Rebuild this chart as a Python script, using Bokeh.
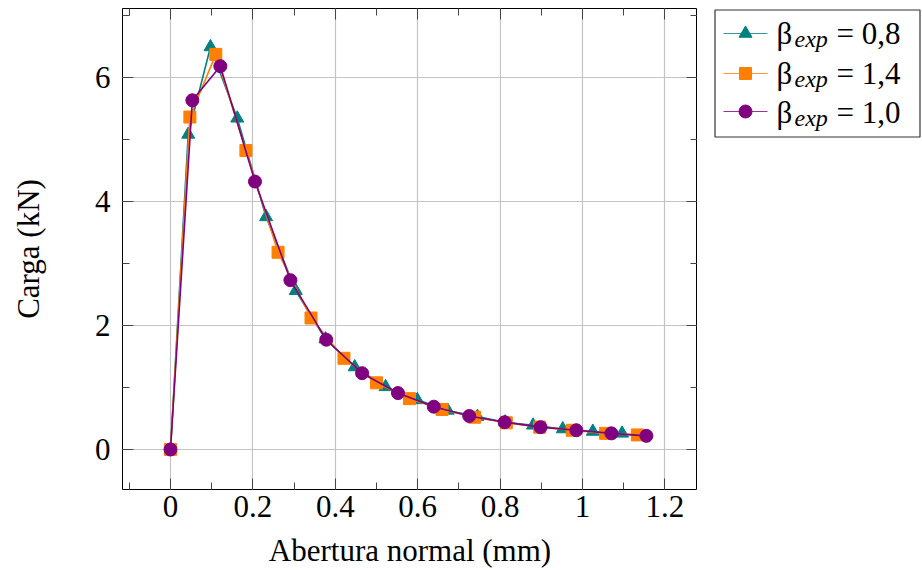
from bokeh.plotting import figure
from bokeh.models import Range1d, LinearAxis, FixedTicker
from bokeh.layouts import row
from bokeh.core.properties import value
from bokeh.embed import file_html
from bokeh.resources import INLINE

# ---- data ----
x_b08 = [0, 0.043, 0.097, 0.162, 0.232, 0.304, 0.376, 0.447, 0.522, 0.599, 0.673, 0.745, 0.812, 0.880, 0.952, 1.025, 1.096]
y_b08 = [0, 5.08, 6.49, 5.34, 3.75, 2.56, 1.78, 1.33, 1.01, 0.80, 0.63, 0.53, 0.44, 0.39, 0.33, 0.29, 0.26]

x_b14 = [0, 0.047, 0.110, 0.183, 0.261, 0.341, 0.421, 0.500, 0.580, 0.659, 0.738, 0.815, 0.896, 0.975, 1.056, 1.133]
y_b14 = [0, 5.36, 6.37, 4.82, 3.18, 2.12, 1.47, 1.075, 0.82, 0.645, 0.52, 0.43, 0.36, 0.31, 0.26, 0.235]

x_b10 = [0, 0.053, 0.121, 0.205, 0.291, 0.378, 0.465, 0.552, 0.639, 0.725, 0.811, 0.898, 0.985, 1.070, 1.155]
y_b10 = [0, 5.63, 6.18, 4.32, 2.73, 1.77, 1.23, 0.91, 0.69, 0.54, 0.44, 0.36, 0.31, 0.26, 0.22]

series_values = ["0,8", "1,4", "1,0"]
x_ticks = [0, 0.2, 0.4, 0.6, 0.8, 1.0, 1.2]
x_tick_labels = ["0", "0.2", "0.4", "0.6", "0.8", "1", "1.2"]
x_minor = [-0.1, 0.1, 0.3, 0.5, 0.7, 0.9, 1.1]
y_ticks = [0, 2, 4, 6]
y_tick_labels = ["0", "2", "4", "6"]
y_minor = [1, 3, 5, 7]
x_title = "Abertura normal (mm)"
y_title = "Carga (kN)"

FONT = "Liberation Serif"
TEAL = "#008080"
ORANGE = "#ff8000"
PURPLE = "#800080"

p = figure(frame_width=575, frame_height=481,
           x_range=Range1d(-0.1165, 1.279), y_range=Range1d(-0.645, 7.11),
           output_backend="svg", toolbar_location=None,
           min_border_left=122, min_border_right=0, min_border_top=8, min_border_bottom=81,
           x_axis_label=x_title, y_axis_label=y_title)
p.title = None
p.outline_line_color = "black"
p.outline_line_width = 1
p.background_fill_color = "white"
p.border_fill_color = "white"

xt = FixedTicker(ticks=x_ticks, minor_ticks=x_minor)
yt = FixedTicker(ticks=y_ticks, minor_ticks=y_minor)

def style_axis(ax, show_labels):
    ax.axis_line_color = None
    ax.major_tick_in = 11
    ax.major_tick_out = 0
    ax.minor_tick_in = 7
    ax.minor_tick_out = 0
    ax.major_tick_line_color = "#444444"
    ax.minor_tick_line_color = "#444444"
    ax.major_tick_line_width = 1
    ax.minor_tick_line_width = 1
    if show_labels:
        ax.major_label_text_font = FONT
        ax.major_label_text_font_size = "31px"
        ax.major_label_text_color = "black"
        ax.axis_label_text_font = FONT
        ax.axis_label_text_font_size = "31px"
        ax.axis_label_text_font_style = "normal"
        ax.axis_label_text_color = "black"
    else:
        ax.major_label_text_font_size = "0px"
        ax.major_label_text_alpha = 0
        ax.major_label_standoff = 0

xa = p.xaxis[0]
xa.ticker = xt
xa.major_label_overrides = dict(zip(x_ticks, x_tick_labels))
style_axis(xa, True)
xa.major_label_standoff = 6
xa.axis_label_standoff = 13

ya = p.yaxis[0]
ya.ticker = yt
ya.major_label_overrides = dict(zip(y_ticks, y_tick_labels))
style_axis(ya, True)
ya.major_label_standoff = 12
ya.axis_label_standoff = 46

top = LinearAxis(ticker=xt)
style_axis(top, False)
p.add_layout(top, "above")
right = LinearAxis(ticker=yt)
style_axis(right, False)
p.add_layout(right, "right")

p.xgrid.ticker = xt
p.ygrid.ticker = yt
p.grid.grid_line_color = "#c4c4c4"
p.grid.grid_line_width = 1.2

# series: teal triangles, orange squares, purple circles
p.line(x_b08, y_b08, line_color=TEAL, line_width=1.6)
p.scatter(x_b08, y_b08, marker="triangle", size=13, fill_color=TEAL, line_color=TEAL)
p.line(x_b14, y_b14, line_color=ORANGE, line_width=1.6)
p.scatter(x_b14, y_b14, marker="square", size=12, fill_color=ORANGE, line_color=ORANGE)
p.line(x_b10, y_b10, line_color=PURPLE, line_width=1.6)
p.scatter(x_b10, y_b10, marker="circle", size=13, fill_color=PURPLE, line_color=PURPLE)

# ---- legend panel (pixel coordinates; frame aligned 8px below page top) ----
LW, LH = 224, 570
lg = figure(frame_width=LW, frame_height=LH, x_range=Range1d(0, LW), y_range=Range1d(LH, 0),
            x_axis_type=None, y_axis_type=None,
            output_backend="svg", toolbar_location=None,
            min_border=0, outline_line_color=None)
lg.title = None
lg.grid.visible = False
lg.background_fill_color = "white"
lg.border_fill_color = "white"

lg.quad(left=[17.5], right=[222.5], top=[1.5], bottom=[128.5],
        fill_color="white", line_color="#333333", line_width=1.2)

rows_y = [25, 65, 103]
text_mid = [24.5, 64.5, 103.5]
colors = [TEAL, ORANGE, PURPLE]
markers = ["triangle", "square", "circle"]
msizes = [13, 12, 13]
for yy, ty, c, m, ms, v in zip(rows_y, text_mid, colors, markers, msizes, series_values):
    lg.line([26, 70], [yy, yy], line_color=c, line_width=1.2, line_alpha=0.8)
    lg.scatter([48], [yy], marker=m, size=ms, fill_color=c, line_color=c)
    lg.text([79], [ty], text=["β"], text_font=value(FONT), text_font_size="31px",
            text_baseline="middle", text_align="left", text_color="black")
    lg.text([97], [ty + 5.5], text=["exp"], text_font=value(FONT), text_font_size="24px",
            text_font_style="italic", text_baseline="middle", text_align="left", text_color="black")
    lg.text([139], [ty], text=["= " + v], text_font=value(FONT), text_font_size="31px",
            text_baseline="middle", text_align="left", text_color="black")

layout = row(p, lg)
open("out.html", "w").write(file_html(layout, INLINE))
